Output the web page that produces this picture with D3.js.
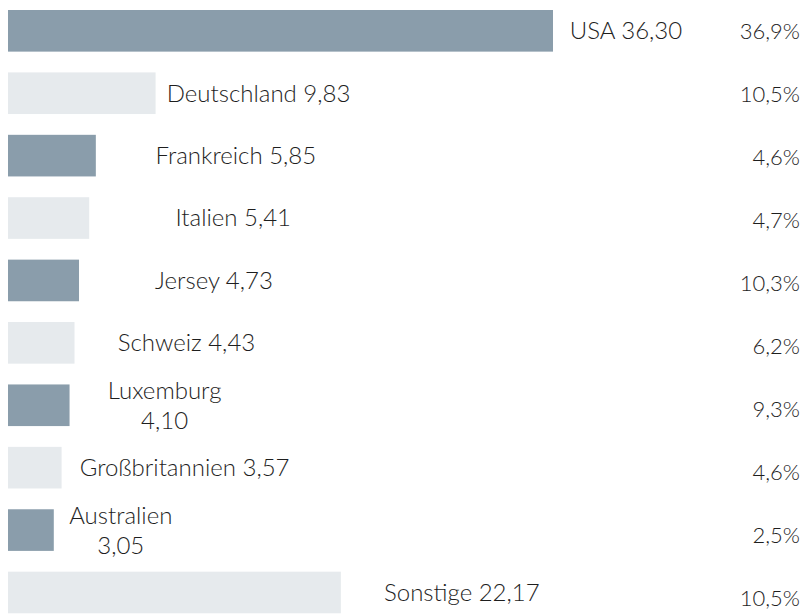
<!DOCTYPE html>
<html>
<head>
<meta charset="utf-8">
<script src="https://cdn.jsdelivr.net/npm/d3@7"></script>
<style>
  html, body { margin: 0; padding: 0; background: #ffffff; }
  svg { display: block; }
  text { font-family: Lato, "Open Sans", sans-serif; font-weight: 300; fill: #1e1e1e; }
</style>
</head>
<body>
<svg id="chart" width="806" height="615"></svg>
<script>
// ---- data ----
const categories = ["USA", "Deutschland", "Frankreich", "Italien", "Jersey", "Schweiz",
                    "Luxemburg", "Großbritannien", "Australien", "Sonstige"];
const values = [36.30, 9.83, 5.85, 5.41, 4.73, 4.43, 4.10, 3.57, 3.05, 22.17];
const shares = [36.9, 10.5, 4.6, 4.7, 10.3, 6.2, 9.3, 4.6, 2.5, 10.5];

// ---- layout (not data) ----
const labelDx = [73, 103, 140, 144, 135, 112, 95, 123, 67, 121]; // label centre offset from bar end
const wrapLabel = [false, false, false, false, false, false, true, false, true, false];
const colors = ["#8a9dab", "#e6eaed"];

const W = 806, H = 615;
const svg = d3.select("#chart");

const fmtVal = v => d3.format(".2f")(v).replace(".", ",");
const fmtPct = v => d3.format(".1f")(v).replace(".", ",") + "%";

const x = d3.scaleLinear().domain([0, d3.max(values)]).range([8, 553]);
const y = d3.scaleBand().domain(categories).range([10, 613.3]).paddingInner(0.333).paddingOuter(0);
const yPct = d3.scalePoint().domain(categories).range([31, 598]);

const rows = categories.map((c, i) => ({ c, v: values[i], p: shares[i], i }));

svg.selectAll("rect.bar").data(rows).join("rect")
  .attr("class", "bar")
  .attr("x", x(0))
  .attr("y", d => y(d.c))
  .attr("width", d => x(d.v) - x(0))
  .attr("height", y.bandwidth())
  .attr("fill", d => colors[d.i % 2]);

const labels = svg.selectAll("text.lbl").data(rows).join("text")
  .attr("class", "lbl")
  .attr("text-anchor", "middle")
  .attr("font-size", 24)
  .attr("x", d => x(d.v) + labelDx[d.i])
  .attr("y", d => y(d.c) + y.bandwidth() / 2);

labels.each(function(d) {
  const t = d3.select(this);
  const cx = x(d.v) + labelDx[d.i];
  if (wrapLabel[d.i]) {
    t.append("tspan").attr("x", cx).attr("dy", "-0.27em").text(d.c);
    t.append("tspan").attr("x", cx).attr("dy", "1.25em").text(fmtVal(d.v));
  } else {
    t.append("tspan").attr("x", cx).attr("dy", "0.35em").text(d.c + " " + fmtVal(d.v));
  }
});

svg.selectAll("text.pct").data(rows).join("text")
  .attr("class", "pct")
  .attr("text-anchor", "end")
  .attr("font-size", 22)
  .attr("x", 800)
  .attr("y", d => yPct(d.c))
  .attr("dy", "0.35em")
  .text(d => fmtPct(d.p));
</script>
</body>
</html>
